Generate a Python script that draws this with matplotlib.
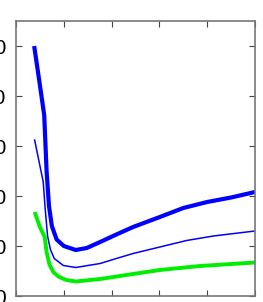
import numpy as np
import matplotlib.pyplot as plt

## Data
x_thick = [0.38, 0.48, 0.59, 0.64, 0.69, 0.75, 0.85, 1.0, 1.25, 1.48, 1.76, 2.1, 2.45, 3.01, 3.5, 4.0, 4.5, 5.0]
y_thick = [50.0, 43.5, 36.2, 25.0, 18.0, 14.0, 11.3, 10.0, 9.2, 9.6, 10.8, 12.3, 13.8, 15.8, 17.6, 18.8, 19.7, 20.8]

x_thin = [0.39, 0.57, 0.61, 0.66, 0.72, 0.8, 0.99, 1.25, 1.76, 2.1, 2.45, 3.01, 3.57, 4.13, 5.0]
y_thin = [31.2, 22.8, 17.5, 12.0, 9.3, 7.5, 6.1, 5.7, 6.5, 7.5, 8.5, 9.8, 11.1, 12.0, 13.0]

x_green = [0.39, 0.5, 0.6, 0.64, 0.7, 0.78, 0.885, 1.05, 1.25, 1.76, 2.45, 3.01, 3.85, 5.0]
y_green = [16.8, 13.8, 11.8, 8.8, 6.3, 4.8, 3.9, 3.2, 2.9, 3.4, 4.4, 5.2, 6.0, 6.7]

yticks = [0, 10, 20, 30, 40, 50]
xticks = [0, 1, 2, 3, 4, 5]

## Figure
fig = plt.figure(figsize=(2.63, 3.02), dpi=100)
ax = fig.add_axes([16/263, 6/302, 239/263, 275/302])

ax.plot(x_thick, y_thick, color='#0000ff', lw=3.0, solid_capstyle='butt')
ax.plot(x_thin, y_thin, color='#0000ff', lw=1.1)
ax.plot(x_green, y_green, color='#00ee00', lw=2.8, solid_capstyle='butt')

ax.set_xlim(0, 5)
ax.set_ylim(0, 55)
ax.set_xticks(xticks)
ax.set_yticks(yticks)
ax.set_xticklabels([])
ax.tick_params(direction='in', length=4, width=0.8, color='#444444',
               top=True, right=True, labelsize=15, pad=7)
for lab in ax.get_yticklabels():
    lab.set_family(['Liberation Sans Narrow', 'Liberation Sans'])
for s in ax.spines.values():
    s.set_color('#777777')
    s.set_linewidth(1.2)

fig.savefig('out.png', dpi=100)
